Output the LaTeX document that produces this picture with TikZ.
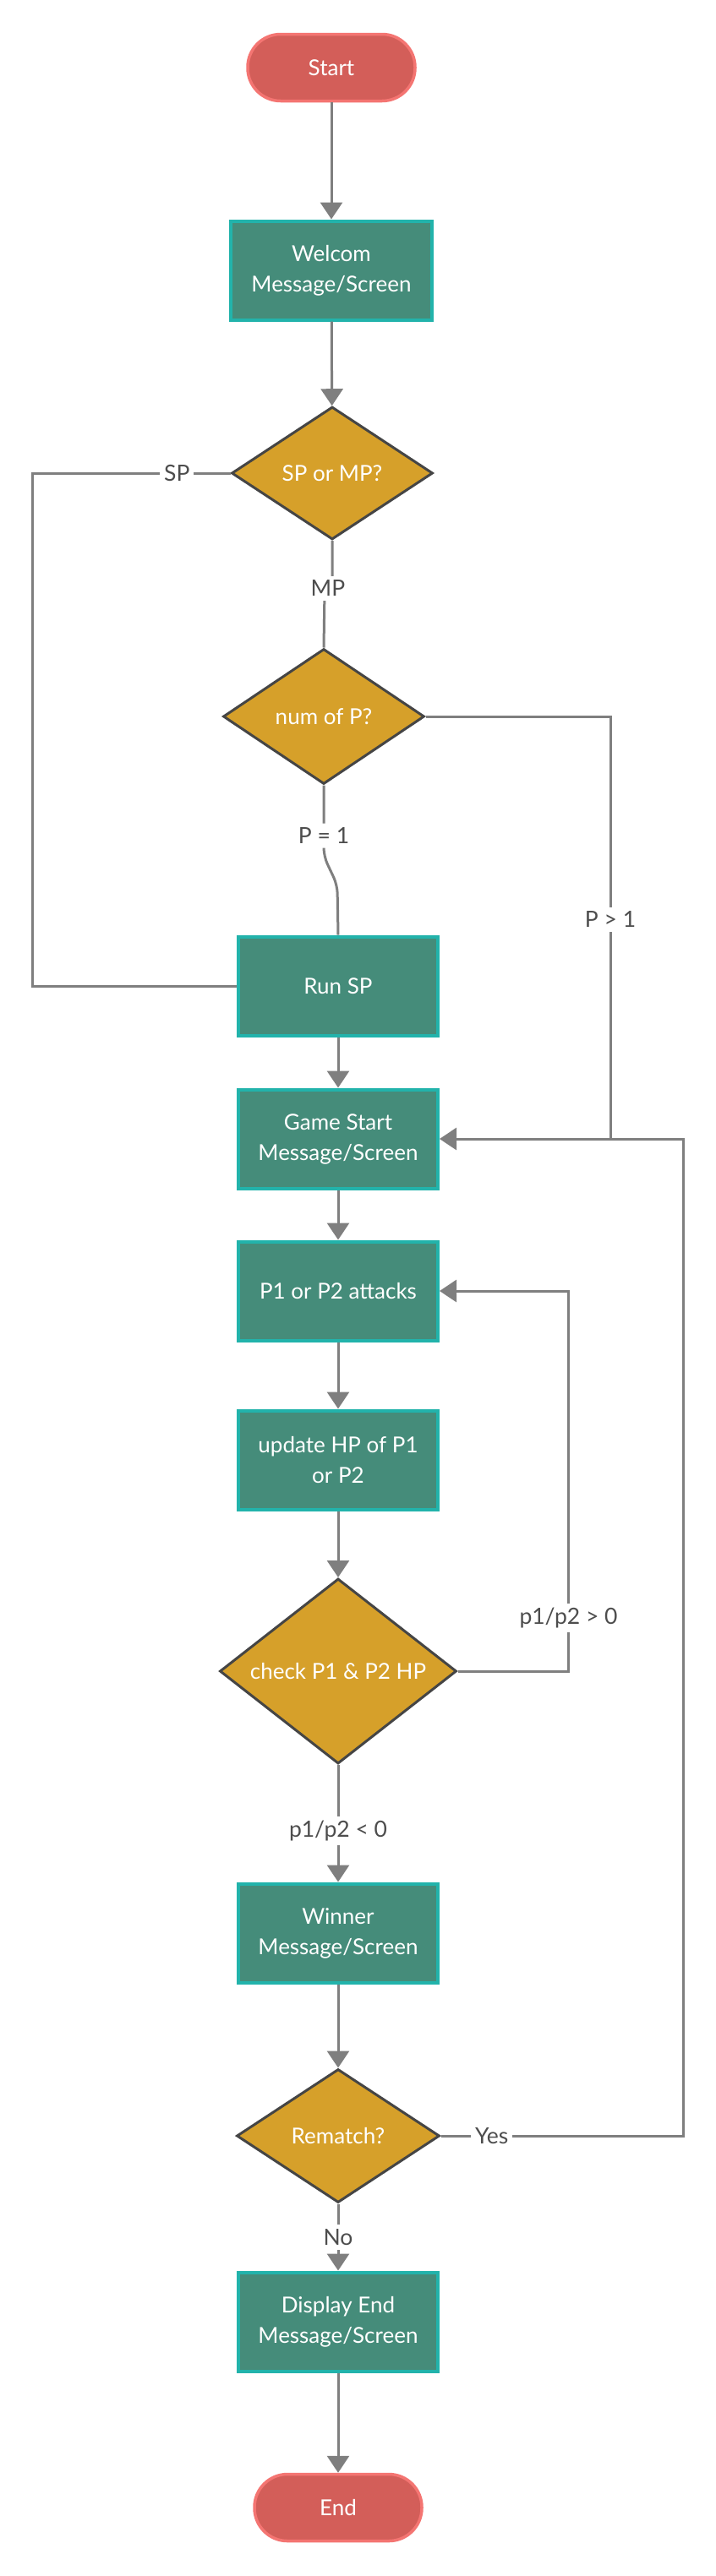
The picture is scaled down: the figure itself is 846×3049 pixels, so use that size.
\documentclass[tikz,border=0pt]{standalone}
\usepackage{fontspec}
\setmainfont{Lato}
\usetikzlibrary{arrows.meta,shapes.geometric}
\definecolor{termfill}{HTML}{D35E59}
\definecolor{termline}{HTML}{F47572}
\definecolor{procfill}{HTML}{458C7A}
\definecolor{procline}{HTML}{22B3AB}
\definecolor{decfill}{HTML}{D6A02A}
\definecolor{decline}{HTML}{454545}
\definecolor{conncol}{HTML}{7F7F7F}
\definecolor{lblcol}{HTML}{4D4D4D}
\begin{document}
\begin{tikzpicture}[x=1pt,y=-1pt,
  txt/.style={font=\fontsize{26}{36}\selectfont, text=white, align=center},
  term/.style={txt, draw=termline, fill=termfill, line width=3.5pt, rounded corners=39pt, minimum width=198pt, minimum height=79pt, inner sep=0pt},
  proc/.style={txt, draw=procline, fill=procfill, line width=4pt, minimum width=236pt, minimum height=117pt, inner sep=0pt},
  dec/.style={txt, diamond, aspect=1.3, draw=decline, fill=decfill, line width=3pt, inner sep=0pt},
  conn/.style={draw=conncol, line width=3pt},
  arr/.style={conn, -{Triangle[width=26pt,length=20pt]}},
  lbl/.style={font=\fontsize{26.5}{30}\selectfont, text=lblcol, fill=white, inner sep=5pt}
]
\path[use as bounding box, fill=white] (0,0) rectangle (846,3049);

\node[term] (start) at (392,80) {Start};
\node[proc, minimum width=238pt] (wel) at (392,320) {Welcom\\Message/Screen};
\node[dec, minimum width=238pt, minimum height=157pt] (d1) at (393,560) {SP or MP?};
\node[dec, minimum width=238pt, minimum height=160pt] (d2) at (383,848) {num of P?};
\node[proc] (runsp) at (400,1167) {Run SP};
\node[proc] (gs) at (400,1348) {Game Start\\Message/Screen};
\node[proc] (p1) at (400,1528) {P1 or P2 attacks};
\node[proc] (upd) at (400,1728) {update HP of P1\\or P2};
\node[dec, minimum width=280pt, minimum height=219pt] (chk) at (400,1978) {check P1 \& P2 HP};
\node[proc] (win) at (400,2288) {Winner\\Message/Screen};
\node[dec, minimum width=240pt, minimum height=158pt] (rm) at (400,2528) {Rematch?};
\node[proc] (disp) at (400,2748) {Display End\\Message/Screen};
\node[term] (end) at (400,2968) {End};

\draw[arr] (start) -- (wel);
\draw[arr] (wel) -- (d1);
\draw[conn] (d1.west) -- node[lbl, pos=0.27] {SP} ++(-234,0) |- (runsp.west);
\draw[conn] (d1.south) -- ++(0,58) -- ++(-9,0) -- (d2.north);
\node[lbl] (mp) at (388,696) {MP};
\draw[conn, rounded corners=10pt] (d2.south) -- node[lbl, pos=0.71] {P = 1} ++(0,84) -- ++(16,34) -- (runsp.north);
\coordinate (pj) at (722,1348);
\draw[conn] (d2.east) -| node[lbl, pos=0.74] {P > 1} (pj);
\draw[arr] (runsp) -- (gs);
\draw[arr] (gs) -- (p1);
\draw[arr] (p1) -- (upd);
\draw[arr] (upd) -- (chk);
\draw[arr] (chk.east) -- ++(131,0) |- node[lbl, pos=0.07] {p1/p2 > 0} (p1.east);
\draw[arr] (chk) -- node[lbl, pos=0.56] {p1/p2 < 0} (win);
\draw[arr] (win) -- (rm);
\draw[arr] (rm.east) -- node[lbl, pos=0.21] {Yes} ++(287,0) |- (gs.east);
\draw[arr] (rm) -- node[lbl, pos=0.5] {No} (disp);
\draw[arr] (disp) -- (end);
\end{tikzpicture}
\end{document}
